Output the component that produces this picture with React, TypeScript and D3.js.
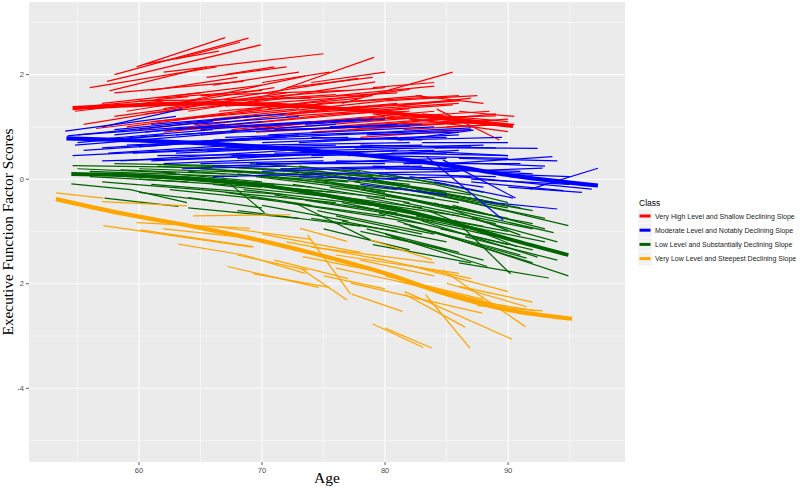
import React, { useRef, useEffect } from "react";
import * as d3 from "d3";

// legend / class info
const classNames = [
  "Very High Level and Shallow Declining Slope",
  "Moderate Level and Notably Declining Slope",
  "Low Level and Substantially Declining Slope",
  "Very Low Level and Steepest Declining Slope",
];
const classColors = ["#FF0000", "#0000FF", "#006400", "#FFA500"];

// axis ticks
const xMajor = [60, 70, 80, 90];
const xMinor = [55, 65, 75, 85, 95];
const yMajor = [-4, -2, 0, 2];
const yMinor = [-5, -3, -1, 1, 3];
const yTickLabels = ["-4", "2", "0", "2"];

// individual trajectories: [age, score, age, score, ...]
const redLines = [
  [59.8, 2.15, 67.0, 2.71], [58.0, 2.0, 68.9, 2.7], [56.0, 1.75, 66.3, 2.15],
  [57.4, 1.87, 69.9, 2.57], [57.6, 1.69, 65.5, 2.15], [58.0, 1.65, 68.5, 1.87],
  [62.0, 2.05, 75.0, 2.4], [60.5, 2.2, 66.5, 2.45], [63.0, 2.3, 68.2, 2.62],
  [76.5, 1.45, 85.5, 2.05], [70.5, 1.62, 79.1, 2.33], [63.0, 1.45, 73.5, 1.97],
  [62.0, 1.35, 77.8, 1.93], [64.0, 1.3, 79.2, 1.86], [68.0, 1.3, 82.0, 1.72],
  [72.0, 1.2, 85.5, 1.42], [84.2, 1.34, 89.3, 0.75], [78.0, 1.15, 89.0, 1.21],
  [79.0, 1.25, 90.0, 0.91], [55.5, 1.05, 66.0, 1.45], [56.5, 0.97, 70.0, 1.35],
  [58.0, 1.2, 72.0, 1.65], [59.0, 1.3, 71.0, 1.75], [57.0, 1.45, 65.0, 1.65],
  [60.0, 1.5, 74.0, 1.55], [61.0, 1.1, 73.0, 1.35], [62.0, 0.9, 76.0, 1.25],
  [64.0, 1.0, 78.0, 1.4], [65.0, 1.6, 77.0, 1.7], [66.0, 1.15, 80.0, 1.5],
  [68.0, 1.05, 82.0, 1.35], [70.0, 0.95, 84.0, 1.2], [72.0, 1.25, 86.0, 1.45],
  [74.0, 0.9, 88.0, 1.1], [75.0, 1.1, 88.5, 1.3], [77.0, 0.95, 90.0, 1.15],
  [78.0, 0.8, 87.0, 0.95], [80.0, 1.05, 89.0, 1.25], [67.0, 1.4, 79.0, 1.6],
  [69.0, 1.55, 80.0, 1.75], [63.0, 1.6, 70.0, 1.8], [54.8, 1.3, 62.0, 1.5],
  [56.0, 1.4, 64.0, 1.58], [66.0, 1.8, 73.0, 2.05], [70.0, 1.85, 75.5, 2.05],
  [73.0, 1.55, 81.0, 1.65], [81.0, 1.4, 87.0, 1.55], [82.0, 1.15, 88.5, 1.05],
  [85.0, 1.0, 90.5, 1.05], [71.0, 1.4, 78.0, 1.35], [60.0, 0.95, 69.0, 1.2],
  [65.0, 0.85, 75.0, 1.1], [76.0, 1.6, 84.0, 1.78], [67.0, 2.0, 71.0, 2.15],
  [60.5, 1.25, 72.0, 1.55], [61.5, 1.55, 70.0, 1.7], [63.5, 1.15, 75.0, 1.45],
  [64.5, 1.45, 76.0, 1.62], [66.5, 1.3, 78.0, 1.55], [67.5, 0.95, 80.0, 1.2],
  [69.0, 1.2, 81.0, 1.45], [70.5, 1.35, 83.0, 1.6], [71.5, 1.05, 84.0, 1.3],
  [73.0, 1.3, 85.0, 1.5], [74.5, 1.45, 86.0, 1.6], [75.5, 1.0, 87.0, 1.2],
  [77.0, 1.35, 86.0, 1.5], [78.5, 1.05, 88.0, 1.1], [80.0, 1.5, 87.5, 1.6],
  [81.5, 0.95, 89.0, 1.05], [83.0, 1.25, 90.0, 1.1], [59.0, 1.0, 67.0, 1.25],
  [61.0, 1.7, 68.0, 1.95], [65.5, 1.95, 72.0, 2.15], [72.0, 1.75, 79.0, 1.95],
  [74.0, 1.85, 80.0, 2.05], [79.0, 1.75, 84.0, 1.85], [63.0, 0.95, 72.0, 1.05],
  [69.5, 0.9, 78.0, 1.0], [76.0, 1.25, 82.0, 1.3], [82.5, 1.6, 88.0, 1.45],
  [86.0, 1.3, 90.5, 1.2],
];

const blueLines = [
  [54.0, 0.92, 63.0, 1.2], [54.2, 0.83, 66.0, 1.1], [54.8, 0.65, 68.0, 0.9],
  [55.5, 0.55, 65.0, 0.7], [54.6, 0.45, 69.0, 0.62], [55.0, 0.7, 62.0, 0.85],
  [57.0, 1.0, 63.5, 1.34], [58.0, 0.95, 70.0, 1.22], [58.5, 0.35, 72.0, 0.55],
  [59.0, 0.78, 71.0, 0.98], [60.0, 0.62, 73.0, 0.85], [61.0, 1.05, 72.0, 1.25],
  [61.5, 0.45, 74.0, 0.48], [62.0, 0.3, 75.0, 0.42], [63.0, 0.85, 76.0, 1.05],
  [64.0, 0.72, 77.0, 0.8], [65.0, 0.95, 78.0, 1.15], [65.5, 0.55, 79.0, 0.62],
  [66.0, 0.25, 80.0, 0.35], [67.0, 0.8, 80.0, 0.9], [68.0, 0.4, 81.0, 0.55],
  [68.5, 1.0, 79.0, 1.15], [69.0, 0.65, 82.0, 0.7], [70.0, 0.15, 83.0, 0.25],
  [70.5, 0.85, 84.0, 1.0], [71.0, 0.5, 84.0, 0.55], [72.0, 0.3, 85.0, 0.4],
  [73.0, 0.7, 86.0, 0.85], [73.5, 1.05, 80.0, 1.15], [74.0, 0.1, 86.0, 0.15],
  [75.0, 0.55, 87.0, 0.62], [76.0, 0.85, 87.0, 0.95], [76.0, 0.35, 88.0, 0.3],
  [77.0, 0.0, 87.0, 0.05], [78.0, 0.65, 89.0, 0.6], [79.0, 0.45, 90.0, 0.4],
  [80.0, 0.9, 87.0, 0.98], [80.0, 0.2, 91.0, 0.15], [81.0, 0.75, 89.5, 0.8],
  [82.0, 0.05, 88.0, -0.15], [83.4, 0.43, 89.6, -0.78], [84.7, 0.37, 90.6, -0.36],
  [84.0, 0.6, 92.4, 0.59], [85.0, 0.3, 93.6, 0.43], [91.8, -0.19, 97.3, 0.21],
  [86.0, 0.05, 96.8, -0.19], [87.0, -0.05, 94.5, -0.22], [88.0, -0.43, 94.0, -0.57],
  [85.0, 0.15, 92.8, 0.21], [81.2, 0.75, 87.2, 0.94], [78.0, -0.1, 85.0, -0.3],
  [57.0, 0.6, 67.0, 0.75], [59.5, 0.5, 70.0, 0.6], [62.5, 0.95, 74.0, 1.1],
  [64.0, 0.4, 78.0, 0.5], [67.0, 0.6, 76.0, 0.65], [71.0, 0.95, 82.0, 1.02],
  [74.0, 0.8, 83.0, 0.75], [77.0, 0.45, 86.0, 0.55], [79.0, 0.25, 87.0, 0.2],
  [82.0, 0.55, 90.0, 0.45], [89.0, 0.1, 95.0, 0.05], [84.0, -0.05, 90.4, -0.36],
  [55.0, 0.85, 64.0, 1.0], [56.0, 0.75, 66.0, 0.95], [57.5, 0.5, 68.0, 0.65],
  [58.0, 0.85, 67.0, 1.05], [59.0, 0.65, 69.0, 0.75], [60.5, 0.9, 70.0, 1.1],
  [61.0, 0.35, 71.0, 0.45], [62.0, 0.7, 72.0, 0.8], [63.0, 0.5, 73.0, 0.6],
  [64.5, 1.05, 73.0, 1.2], [65.0, 0.3, 75.0, 0.35], [66.0, 0.75, 76.0, 0.85],
  [67.5, 0.45, 78.0, 0.5], [68.0, 0.9, 78.0, 1.0], [69.5, 0.3, 80.0, 0.3],
  [70.0, 0.7, 81.0, 0.8], [71.5, 0.2, 82.0, 0.25], [72.0, 0.6, 83.0, 0.65],
  [72.5, 0.95, 81.0, 1.05], [74.0, 0.45, 85.0, 0.5], [75.0, 0.75, 85.0, 0.8],
  [76.5, 0.2, 86.0, 0.2], [77.5, 0.6, 88.0, 0.65], [78.5, 0.85, 86.0, 0.9],
  [79.5, 0.1, 89.0, 0.05], [80.5, 0.5, 90.0, 0.45], [81.5, 0.3, 91.0, 0.3],
  [83.0, 0.7, 90.0, 0.7], [84.0, 0.2, 92.0, 0.1], [86.0, 0.4, 94.0, 0.35],
  [87.0, 0.0, 95.0, -0.1], [66.0, 0.05, 75.0, 0.1], [73.0, 0.05, 81.0, 0.0],
  [57.0, 0.35, 65.0, 0.4], [63.5, 0.2, 72.0, 0.25], [75.5, 1.0, 83.0, 1.05],
  [88.0, 0.3, 93.0, 0.25], [90.0, -0.15, 96.0, -0.25],
];

const greenLines = [
  [54.6, 0.26, 66.0, 0.22], [54.5, -0.09, 59.3, -0.2, 63.9, -0.45], [57.2, -0.36, 63.2, -0.52],
  [56.0, 0.15, 68.0, 0.05], [58.0, 0.3, 70.0, 0.25], [59.0, 0.05, 71.0, -0.1],
  [60.0, 0.2, 73.0, 0.1], [61.0, -0.1, 72.0, -0.3], [62.0, 0.28, 75.0, 0.15],
  [63.0, 0.0, 76.0, -0.25], [64.0, 0.15, 77.0, -0.05], [65.0, -0.2, 76.0, -0.45],
  [66.8, 0.03, 70.2, -0.64], [66.0, 0.25, 79.0, 0.05], [67.0, -0.05, 80.0, -0.35],
  [68.0, 0.1, 81.0, -0.2], [69.0, -0.35, 80.0, -0.7], [70.0, 0.2, 82.0, -0.1],
  [70.5, -0.15, 83.0, -0.55], [71.0, 0.05, 84.0, -0.35], [72.0, -0.45, 83.0, -0.85],
  [72.5, 0.15, 85.0, -0.25], [73.0, -0.25, 86.0, -0.7], [74.0, 0.0, 86.0, -0.45],
  [74.5, -0.6, 84.0, -1.05], [75.0, 0.1, 87.0, -0.3], [75.5, -0.35, 88.0, -0.9],
  [76.0, -0.1, 88.0, -0.65], [76.5, -0.8, 85.0, -1.2], [77.0, 0.05, 89.0, -0.45],
  [77.5, -0.5, 89.0, -1.1], [78.0, -0.2, 90.0, -0.75], [78.5, -0.95, 86.0, -1.4],
  [79.0, 0.0, 91.0, -0.55], [79.5, -0.65, 90.0, -1.25], [80.0, -0.3, 92.0, -0.85],
  [80.5, -1.1, 88.0, -1.55], [81.0, -0.15, 93.0, -0.75], [81.5, -0.85, 91.0, -1.45],
  [82.0, -0.4, 93.7, -1.02], [82.5, -0.2, 94.9, -0.89], [84.0, -1.0, 94.9, -1.85],
  [81.0, -0.8, 92.0, -1.6], [85.7, -0.78, 90.2, -1.81], [84.0, -0.45, 91.0, -1.07],
  [83.0, -0.8, 92.4, -1.49], [80.0, -1.05, 88.3, -1.67], [82.0, -0.9, 91.5, -1.51],
  [83.5, -0.6, 90.7, -1.29], [86.0, -1.6, 93.3, -1.89], [60.0, -0.25, 67.0, -0.45],
  [64.0, -0.55, 73.0, -0.75], [68.0, -0.6, 78.0, -0.9], [72.7, -0.46, 78.8, -1.16],
  [75.0, -0.95, 82.0, -1.35], [79.0, -1.25, 87.0, -1.6], [56.0, 0.05, 64.0, -0.05],
  [62.0, 0.12, 70.0, -0.05], [69.0, 0.3, 78.0, 0.15], [73.0, 0.25, 82.0, 0.0],
  [77.0, 0.2, 85.0, -0.1], [80.0, 0.1, 88.0, -0.25], [84.0, -0.1, 90.0, -0.45],
  [67.0, -0.25, 74.0, -0.5], [74.0, -0.75, 81.0, -1.0],
  [55.0, 0.2, 63.0, 0.12], [57.0, -0.05, 65.0, -0.2], [58.5, 0.18, 67.0, 0.1],
  [60.0, 0.0, 70.0, -0.15], [61.5, 0.25, 71.0, 0.12], [62.5, -0.2, 71.0, -0.4],
  [63.5, 0.05, 74.0, -0.15], [65.0, 0.2, 75.0, 0.05], [66.0, -0.1, 76.0, -0.35],
  [67.5, 0.15, 78.0, -0.05], [68.5, -0.2, 79.0, -0.5], [69.5, 0.05, 80.0, -0.25],
  [71.0, -0.3, 81.0, -0.65], [71.5, 0.2, 80.0, 0.05], [72.5, -0.1, 82.0, -0.45],
  [73.5, -0.4, 84.0, -0.8], [74.5, 0.15, 84.0, -0.1], [75.5, -0.15, 86.0, -0.55],
  [76.5, -0.45, 87.0, -0.95], [77.5, -0.05, 88.0, -0.4], [78.5, -0.35, 89.0, -0.85],
  [79.5, -0.55, 90.0, -1.0], [80.5, -0.15, 90.0, -0.55], [81.5, -0.45, 92.0, -0.95],
  [82.5, -0.7, 93.0, -1.2], [83.5, -0.25, 92.0, -0.6], [84.5, -0.95, 92.0, -1.35],
  [85.5, -0.5, 93.0, -0.95], [86.5, -1.1, 94.0, -1.55], [87.0, -0.75, 94.0, -1.2],
  [64.0, -0.35, 70.0, -0.55], [70.0, -0.5, 77.0, -0.8], [76.0, -0.7, 83.0, -1.05],
  [78.0, -1.0, 85.0, -1.35],
];

const orangeLines = [
  [53.25, -0.26, 57.1, -0.36], [57.0, -0.43, 63.9, -0.51], [57.1, -0.89, 69.2, -1.3],
  [59.8, -0.83, 69.0, -0.94], [64.4, -0.7, 72.3, -0.68], [63.2, -1.24, 68.5, -1.45, 73.5, -1.8],
  [67.2, -1.67, 74.6, -2.07], [69.3, -1.81, 75.5, -2.07], [68.0, -1.45, 73.7, -1.74],
  [60.1, -0.97, 69.3, -1.29], [73.7, -1.07, 77.2, -2.2], [73.3, -1.48, 78.8, -1.74],
  [77.3, -2.2, 81.4, -2.53], [79.0, -2.77, 83.1, -3.22], [80.0, -2.85, 83.8, -3.23],
  [81.6, -2.15, 90.3, -3.06], [81.6, -2.2, 86.5, -2.83], [83.3, -2.21, 86.9, -3.23],
  [84.7, -1.74, 91.4, -2.82], [77.2, -1.99, 87.9, -2.56], [87.5, -2.42, 92.8, -2.52],
  [78.8, -1.16, 83.8, -1.54], [85.3, -2.25, 92.3, -2.52], [85.0, -1.99, 91.5, -2.44],
  [73.1, -1.7, 76.9, -2.31], [73.1, -0.94, 76.9, -1.19], [70.0, -1.05, 78.0, -1.4],
  [74.0, -1.3, 84.0, -1.6], [76.0, -1.45, 86.0, -1.8], [79.0, -1.5, 87.0, -1.9],
  [82.0, -1.65, 90.0, -2.15], [80.0, -1.85, 88.0, -2.3], [86.0, -2.05, 92.0, -2.35],
  [71.0, -1.55, 77.0, -1.9], [75.0, -1.85, 80.0, -2.1], [62.0, -0.95, 70.0, -1.15],
  [66.0, -0.9, 74.0, -1.15], [72.0, -1.2, 80.0, -1.55], [78.0, -1.55, 84.0, -1.85],
  [81.0, -1.95, 88.0, -2.35], [84.0, -2.1, 90.0, -2.45], [76.0, -1.7, 82.0, -2.0],
];

// class mean trajectories
const redMean = [[54.6, 1.36], [60, 1.42], [65, 1.45], [70, 1.43], [75, 1.37], [78.5, 1.31], [85, 1.16], [90.4, 1.02]];
const blueMean = [[54.1, 0.78], [60, 0.74], [65, 0.69], [70, 0.62], [75, 0.53], [80, 0.42], [85, 0.27], [90, 0.08], [97.3, -0.12]];
const greenMean = [[54.5, 0.1], [60, 0.07], [65, 0.0], [70, -0.12], [75, -0.3], [80, -0.52], [85, -0.8], [90, -1.14], [94.9, -1.45]];
const orangeMean = [[53.25, -0.38], [58.5, -0.65], [65, -0.93], [70, -1.18], [75, -1.47], [80, -1.8], [85, -2.2], [90, -2.5], [95.2, -2.67]];

const W = 800;
const H = 488;
const panel = { left: 29, right: 625, top: 2, bottom: 462 };

const toPairs = (arr: number[]) => {
  const out: [number, number][] = [];
  for (let i = 0; i < arr.length; i += 2) out.push([arr[i], arr[i + 1]]);
  return out;
};

const App = () => {
  const canvas = useRef<SVGSVGElement | null>(null);

  useEffect(() => {
    document.body.style.margin = "0";
    const svg = d3.select(canvas.current);
    svg.selectAll("*").remove();

    const x = d3.scaleLinear().domain([51.06, 99.5]).range([panel.left, panel.right]);
    const y = d3.scaleLinear().domain([-5.41, 3.39]).range([panel.bottom, panel.top]);

    svg.append("rect").attr("width", W).attr("height", H).attr("fill", "#fff");

    // panel background
    svg
      .append("rect")
      .attr("x", panel.left)
      .attr("y", panel.top)
      .attr("width", panel.right - panel.left)
      .attr("height", panel.bottom - panel.top)
      .attr("fill", "#EBEBEB");

    const grid = svg.append("g");
    xMinor.forEach((v) =>
      grid.append("line").attr("x1", x(v)).attr("x2", x(v)).attr("y1", panel.top).attr("y2", panel.bottom)
        .attr("stroke", "#fff").attr("stroke-width", 0.5)
    );
    yMinor.forEach((v) =>
      grid.append("line").attr("y1", y(v)).attr("y2", y(v)).attr("x1", panel.left).attr("x2", panel.right)
        .attr("stroke", "#fff").attr("stroke-width", 0.5)
    );
    xMajor.forEach((v) =>
      grid.append("line").attr("x1", x(v)).attr("x2", x(v)).attr("y1", panel.top).attr("y2", panel.bottom)
        .attr("stroke", "#fff").attr("stroke-width", 1.1)
    );
    yMajor.forEach((v) =>
      grid.append("line").attr("y1", y(v)).attr("y2", y(v)).attr("x1", panel.left).attr("x2", panel.right)
        .attr("stroke", "#fff").attr("stroke-width", 1.1)
    );

    svg.append("clipPath").attr("id", "pclip").append("rect")
      .attr("x", panel.left).attr("y", panel.top)
      .attr("width", panel.right - panel.left).attr("height", panel.bottom - panel.top);

    const plot = svg.append("g").attr("clip-path", "url(#pclip)");
    const line = d3.line<[number, number]>().x((d) => x(d[0])).y((d) => y(d[1]));
    const meanLine = d3.line<number[]>().x((d) => x(d[0])).y((d) => y(d[1])).curve(d3.curveMonotoneX);

    // thin individual lines
    const groups: [number[][], string][] = [
      [redLines, classColors[0]],
      [greenLines, classColors[2]],
      [orangeLines, classColors[3]],
      [blueLines, classColors[1]],
    ];
    groups.forEach(([lines, col]) => {
      plot.append("g")
        .selectAll("path")
        .data(lines.map(toPairs))
        .enter()
        .append("path")
        .attr("d", (d) => line(d))
        .attr("fill", "none")
        .attr("stroke", col)
        .attr("stroke-width", 1.25);
    });

    // class means
    const means: [number[][], string, number][] = [
      [redMean, classColors[0], 4.2],
      [blueMean, classColors[1], 4.2],
      [greenMean, classColors[2], 3.8],
      [orangeMean, classColors[3], 4.2],
    ];
    means.forEach(([pts, col, w]) => {
      plot.append("path")
        .attr("d", meanLine(pts))
        .attr("fill", "none")
        .attr("stroke", col)
        .attr("stroke-width", w)
        .attr("stroke-linecap", "butt");
    });

    // axes ticks + labels
    const axis = svg.append("g").attr("font-family", "Liberation Sans, Arial, sans-serif");
    xMajor.forEach((v) => {
      axis.append("line").attr("x1", x(v)).attr("x2", x(v)).attr("y1", panel.bottom).attr("y2", panel.bottom + 3)
        .attr("stroke", "#333").attr("stroke-width", 0.8);
      axis.append("text").attr("x", x(v)).attr("y", panel.bottom + 11).attr("text-anchor", "middle")
        .attr("font-size", 7.5).attr("fill", "#4D4D4D").text(String(v));
    });
    yMajor.forEach((v, i) => {
      axis.append("line").attr("x1", panel.left - 3).attr("x2", panel.left).attr("y1", y(v)).attr("y2", y(v))
        .attr("stroke", "#333").attr("stroke-width", 0.8);
      axis.append("text").attr("x", panel.left - 5).attr("y", y(v) + 2.6).attr("text-anchor", "end")
        .attr("font-size", 7.5).attr("fill", "#4D4D4D").text(yTickLabels[i]);
    });

    // axis titles
    svg.append("text")
      .attr("x", (panel.left + panel.right) / 2)
      .attr("y", 483)
      .attr("text-anchor", "middle")
      .attr("font-family", "Liberation Serif, Times New Roman, serif")
      .attr("font-size", 15.5)
      .attr("fill", "#000")
      .text("Age");
    svg.append("text")
      .attr("transform", `translate(12.5,${(panel.top + panel.bottom) / 2}) rotate(-90)`)
      .attr("text-anchor", "middle")
      .attr("font-family", "Liberation Serif, Times New Roman, serif")
      .attr("font-size", 15.3)
      .attr("fill", "#000")
      .text("Executive Function Factor Scores");

    // legend
    const leg = svg.append("g").attr("font-family", "Liberation Sans, Arial, sans-serif");
    leg.append("text").attr("x", 639).attr("y", 205.5).attr("font-size", 8.5).attr("fill", "#000").text("Class");
    classNames.forEach((name, i) => {
      const cy = 216 + i * 14.2;
      leg.append("rect").attr("x", 638).attr("y", cy - 7).attr("width", 14).attr("height", 14)
        .attr("fill", "#F2F2F2").attr("stroke", "#fff").attr("stroke-width", 0.5);
      leg.append("line").attr("x1", 639.5).attr("x2", 650.5).attr("y1", cy).attr("y2", cy)
        .attr("stroke", classColors[i]).attr("stroke-width", 3);
      leg.append("text").attr("x", 655).attr("y", cy + 2.5).attr("font-size", 7).attr("fill", "#1A1A1A").text(name);
    });
  }, []);

  return (
    <div style={{ position: "absolute", left: 0, top: 0 }}>
      <svg ref={canvas} width={W} height={H} style={{ display: "block" }} />
    </div>
  );
};

export default App;
